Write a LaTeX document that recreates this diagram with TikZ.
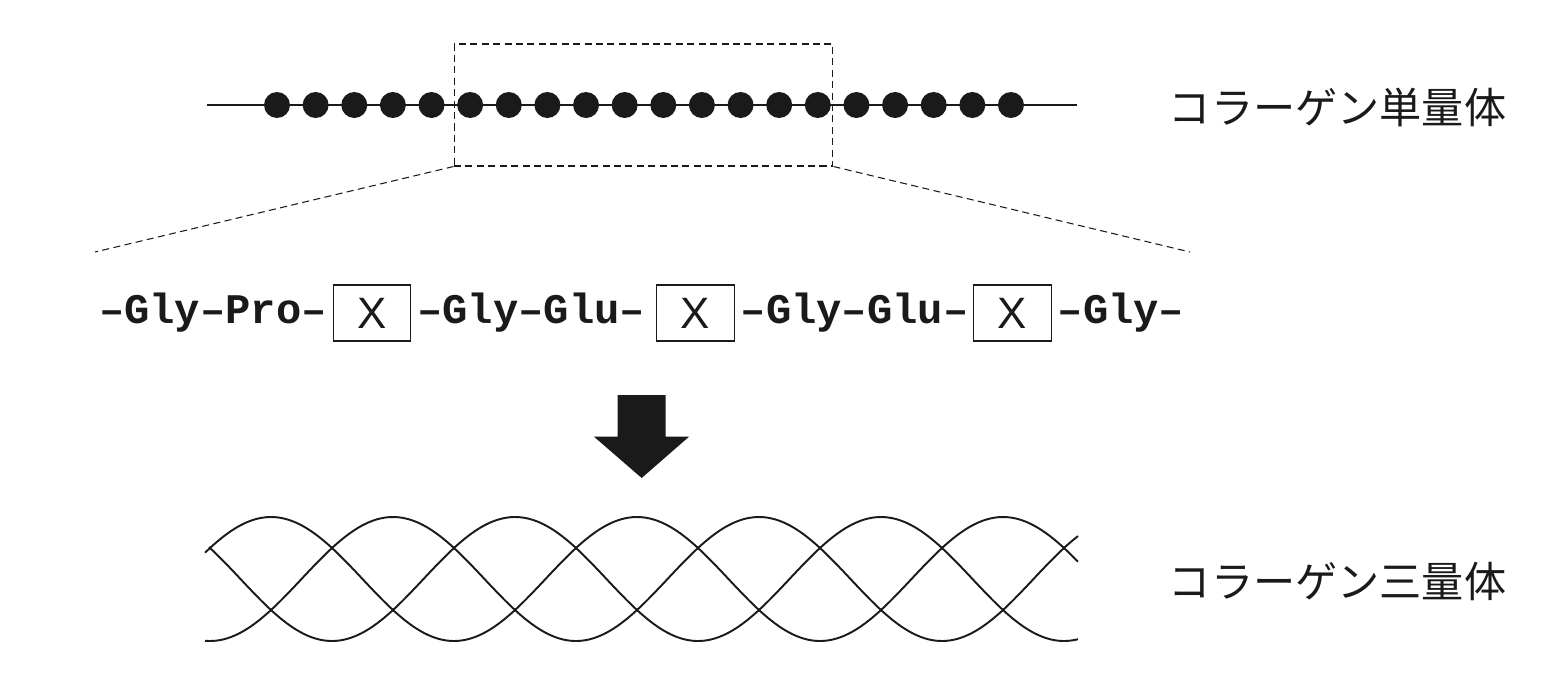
\documentclass[tikz,border=0pt]{standalone}
\usepackage{fontspec}
\setmonofont{Liberation Mono}
\setsansfont{Liberation Sans}
\newfontfamily\cjk{Noto Sans CJK JP}
\usepackage{tikz}
\usetikzlibrary{positioning}
\definecolor{ink}{HTML}{1A1A1A}

\begin{document}
\begin{tikzpicture}[x=0.02cm,y=-0.02cm,line width=1.1pt,ink]
  \tikzstyle{bead}=[circle,fill=ink,inner sep=0pt,minimum size=0.52cm]
  \tikzstyle{resbox}=[draw,line width=0.6pt,inner sep=0pt,minimum width=1.55cm,minimum height=1.12cm,font=\sffamily\fontsize{25}{28}\selectfont]
  \tikzstyle{seq}=[inner sep=0pt,font=\ttfamily\bfseries\fontsize{24}{28}\selectfont]
  \tikzstyle{caption}=[anchor=west,inner sep=0pt,font=\cjk\fontsize{24}{28}\selectfont]
  \tikzstyle{zoomline}=[line width=0.6pt,dash pattern=on 4pt off 2.5pt]

  \useasboundingbox (0,0) rectangle (1560,680);

  \coordinate (chainL) at (207,105);
  \coordinate (chainR) at (1077,105);
  \draw (chainL) -- (chainR);
  \foreach \i in {1,...,20}
    \node[bead] (b\i) at ({277+38.63*(\i-1)},105) {};
  \node[caption] (mono) at (1168,107) {コラーゲン単量体};

  \node[draw,zoomline,inner sep=0pt,minimum width=7.58cm,minimum height=2.44cm] (zoombox) at (643.5,105) {};
  \coordinate (zoomL) at (95,252);
  \coordinate (zoomR) at (1190,252);
  \draw[zoomline] (zoombox.south west) -- (zoomL);
  \draw[zoomline] (zoombox.south east) -- (zoomR);

  \node[resbox] (x1) at (372,313) {X};
  \node[resbox] (x2) at (695.5,313) {X};
  \node[resbox] (x3) at (1012.5,313) {X};
  \node[seq,left=0.1cm of x1] (s1) {–Gly–Pro–};
  \node[seq,right=0.1cm of x1] (s2) {–Gly–Glu–};
  \node[seq,right=0.1cm of x2] (s3) {–Gly–Glu–};
  \node[seq,right=0.1cm of x3] (s4) {–Gly–};

  \fill[ink] (617.7,395) -- (665.7,395) -- (665.7,436.7) -- (689,436.7) -- (641.7,478) -- (594,436.7) -- (617.7,436.7) -- cycle;

  \foreach \k/\start in {0/205,1/205,2/209}
    \draw plot[domain=\start:1078,samples=240,smooth] (\x,{579-62*cos(0.98361*(\x-271)-120*\k)});
  \node[caption] (tri) at (1168,581) {コラーゲン三量体};
\end{tikzpicture}
\end{document}
